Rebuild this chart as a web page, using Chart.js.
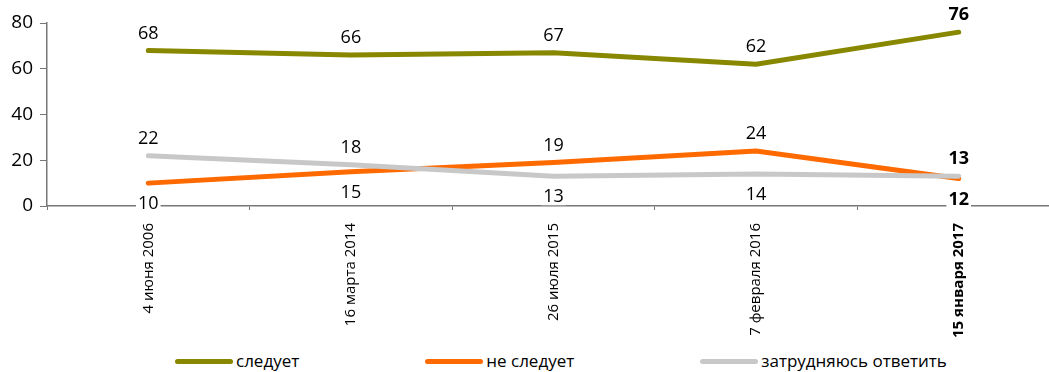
<!DOCTYPE html>
<html lang="ru">
<head>
<meta charset="utf-8">
<script src="https://cdn.jsdelivr.net/npm/chart.js@4.4.1/dist/chart.umd.min.js"></script>
<style>
  html, body { margin: 0; padding: 0; background: #fff; overflow: hidden; }
  #wrap { position: relative; width: 1049px; height: 372px; overflow: hidden; }
  #chart { position: absolute; left: 0; top: 0; }
  #legend { position: absolute; left: 175px; top: 350px; height: 22px; display: flex; gap: 126px;
            font: 17px "Open Sans", "Noto Sans", sans-serif; line-height: 22px; color: #000; }
  #legend .item { display: flex; align-items: center; white-space: nowrap; }
  #legend .sw { display: inline-block; width: 58px; height: 5px; border-radius: 3px; margin-right: 3px; }
</style>
</head>
<body>
<div id="wrap">
  <canvas id="chart" width="1060" height="340"></canvas>
  <div id="legend"></div>
</div>
<script>
const dates = ['4 июня 2006', '16 марта 2014', '26 июля 2015', '7 февраля 2016', '15 января 2017'];
const follows = [68, 66, 67, 62, 76];
const notFollows = [10, 15, 19, 24, 12];
const hardToSay = [22, 18, 13, 14, 13];
const seriesNames = ['следует', 'не следует', 'затрудняюсь ответить'];
const yMin = 0, yMax = 80, yStep = 20;

const FONT = '"Open Sans", "Noto Sans", sans-serif';

// value labels above each point, below it when it's the lowest at that date
const pointLabels = {
  id: 'pointLabels',
  afterDatasetsDraw(chart) {
    const ctx = chart.ctx;
    const sets = chart.data.datasets;
    ctx.save();
    ctx.textAlign = 'center';
    ctx.textBaseline = 'middle';
    sets.forEach((ds, di) => {
      chart.getDatasetMeta(di).data.forEach((pt, i) => {
        const v = ds.data[i];
        const lowest = sets.every((o, oi) => oi === di || o.data[i] > v);
        const last = i === ds.data.length - 1;
        ctx.font = (last ? 'bold ' : '') + '18px ' + FONT;
        const txt = String(v);
        const w = ctx.measureText(txt).width;
        const y = lowest ? pt.y + 21 : pt.y - 17;
        ctx.fillStyle = '#fff';
        ctx.fillRect(pt.x - w / 2 - 2, y - 9, w + 4, 17);
        ctx.fillStyle = '#000';
        ctx.fillText(txt, pt.x, y);
      });
    });
    ctx.restore();
  }
};

const htmlLegend = {
  id: 'htmlLegend',
  afterUpdate(chart) {
    const box = document.getElementById('legend');
    box.innerHTML = '';
    chart.data.datasets.forEach(ds => {
      const item = document.createElement('div');
      item.className = 'item';
      const sw = document.createElement('span');
      sw.className = 'sw';
      sw.style.background = ds.borderColor;
      item.appendChild(sw);
      item.appendChild(document.createTextNode(ds.label));
      box.appendChild(item);
    });
  }
};

new Chart(document.getElementById('chart'), {
  type: 'line',
  data: {
    labels: dates,
    datasets: [
      { label: seriesNames[0], data: follows, borderColor: '#878700', order: 3 },
      { label: seriesNames[1], data: notFollows, borderColor: '#ff6a00', order: 2 },
      { label: seriesNames[2], data: hardToSay, borderColor: '#c8c8c8', order: 1 }
    ]
  },
  options: {
    responsive: false,
    animation: false,
    devicePixelRatio: 1,
    layout: { padding: { top: 23, left: 0, right: 0, bottom: 0 } },
    elements: {
      line: { borderWidth: 5, tension: 0, borderCapStyle: 'round' },
      point: { radius: 0, hoverRadius: 0 }
    },
    plugins: {
      legend: { display: false },
      tooltip: { enabled: false }
    },
    scales: {
      x: {
        offset: true,
        grid: { display: true, drawOnChartArea: false, offset: true, tickLength: 4, color: '#777' },
        border: { display: true, color: '#777', width: 1.5 },
        ticks: {
          autoSkip: false,
          minRotation: 90,
          maxRotation: 90,
          padding: 13,
          color: '#000',
          font: (c) => ({ family: FONT, size: 15, weight: c.index === dates.length - 1 ? 'bold' : 'normal' })
        },
        afterFit(scale) { scale.height = 134; }
      },
      y: {
        min: yMin,
        max: yMax,
        grid: { display: true, drawOnChartArea: false, tickLength: 7, color: '#777' },
        border: { display: true, color: '#777', width: 1.5 },
        ticks: { stepSize: yStep, padding: 7, color: '#000', font: { family: FONT, size: 19 } },
        afterFit(scale) { scale.width = 47; }
      }
    }
  },
  plugins: [pointLabels, htmlLegend]
});
</script>
</body>
</html>
